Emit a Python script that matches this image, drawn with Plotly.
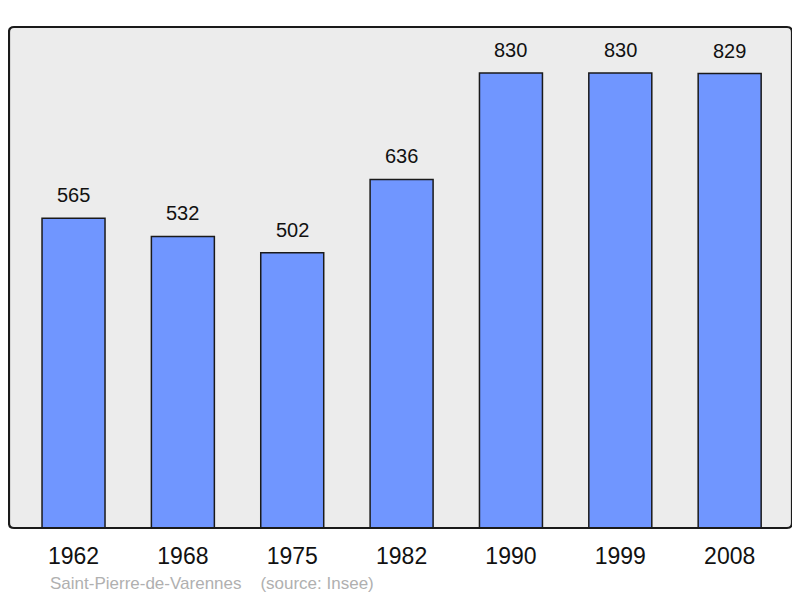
import plotly.graph_objects as go

years = ["1962", "1968", "1975", "1982", "1990", "1999", "2008"]
population = [565, 532, 502, 636, 830, 830, 829]
commune = "Saint-Pierre-de-Varennes"
source = "(source: Insee)"

# page has an 8px body margin; compensate so the plot lands where the reference has it
OFF = 8
W, H = 800 - OFF, 598 - OFF
ml, mr, mt, mb = 9 - OFF, 8, 27 - OFF, 70
pw, ph = W - ml - mr, H - mt - mb

xs = list(range(len(years)))
FONT = "Liberation Sans, Arial, sans-serif"

fig = go.Figure()
fig.add_trace(go.Bar(
    x=xs, y=population, width=0.576,
    marker=dict(color="#7096ff", line=dict(color="#1a1a1a", width=1.5)),
    hoverinfo="skip",
))

for x, v in zip(xs, population):
    fig.add_annotation(x=x, y=v, text=str(v), showarrow=False,
                       yanchor="bottom", yshift=10,
                       font=dict(family=FONT, size=20, color="#111"))

fig.add_annotation(xref="paper", yref="paper", x=(48 - 9) / pw, y=(528 - 583) / ph,
                   text=commune + "&nbsp;" * 4 + source, showarrow=False,
                   xanchor="left", yanchor="middle",
                   font=dict(family=FONT, size=17, color="#b0b0b0"))

# rounded frame path in paper coords
rx, ry = 5 / pw, 5 / ph
path = (f"M {rx},0 L {1-rx},0 Q 1,0 1,{ry} L 1,{1-ry} Q 1,1 {1-rx},1 "
        f"L {rx},1 Q 0,1 0,{1-ry} L 0,{ry} Q 0,0 {rx},0 Z")
fig.add_shape(type="path", path=path, xref="paper", yref="paper",
              fillcolor="#ececec", line=dict(width=0), layer="below")
fig.add_shape(type="path", path=path, xref="paper", yref="paper",
              fillcolor="rgba(0,0,0,0)", line=dict(color="#1a1a1a", width=2.2), layer="above")

fig.update_layout(
    width=W, height=H,
    margin=dict(l=ml, r=mr, t=mt, b=mb),
    paper_bgcolor="white", plot_bgcolor="rgba(0,0,0,0)",
    showlegend=False,
    xaxis=dict(range=[-0.59, 6.57], tickvals=xs, ticktext=years, showgrid=False,
               zeroline=False, showline=False, ticks="", ticklabelstandoff=12,
               tickfont=dict(family=FONT, size=23, color="#111"),
               fixedrange=True),
    yaxis=dict(range=[0, 914], showticklabels=False, showgrid=False, zeroline=False,
               showline=False, ticks="", fixedrange=True),
)

fig.write_html("out.html")
